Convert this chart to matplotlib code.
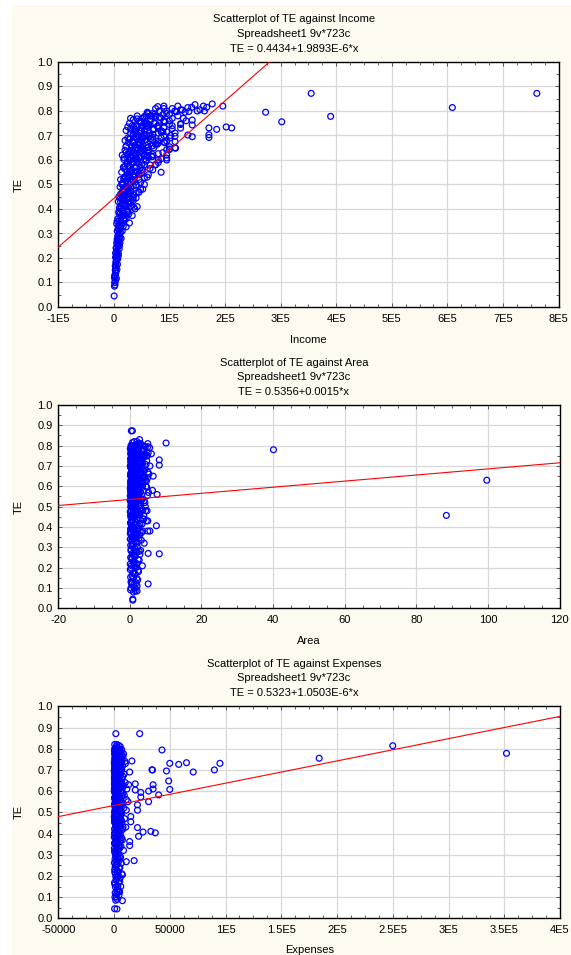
import matplotlib
matplotlib.use("Agg")
import matplotlib.pyplot as plt
from matplotlib.ticker import FixedLocator, AutoMinorLocator, FixedFormatter
from matplotlib.patches import Rectangle

plt.rcParams['font.family'] = ['Liberation Sans', 'DejaVu Sans']

# ---------------- data ----------------
te_core = [
    0.045, 0.085, 0.09, 0.10, 0.11, 0.12, 0.125, 0.13, 0.14, 0.15, 0.16, 0.17, 0.18, 0.19, 0.20,
    0.21, 0.22, 0.23, 0.24, 0.25, 0.26, 0.265, 0.27, 0.28, 0.285, 0.29, 0.30, 0.21, 0.25, 0.28,
    0.31, 0.32, 0.33, 0.335, 0.34, 0.35, 0.355, 0.36, 0.37, 0.375, 0.38, 0.39, 0.395, 0.40, 0.32, 0.34, 0.36, 0.38, 0.39, 0.33,
    0.40, 0.405, 0.41, 0.415, 0.42, 0.425, 0.43, 0.435, 0.44, 0.445, 0.45, 0.455, 0.46, 0.465, 0.47, 0.475, 0.48, 0.485, 0.49, 0.495,
    0.50, 0.41, 0.43, 0.45, 0.47, 0.49, 0.42, 0.44, 0.46, 0.48,
    0.50, 0.505, 0.51, 0.515, 0.52, 0.525, 0.53, 0.535, 0.54, 0.545, 0.55, 0.555, 0.56, 0.565, 0.57, 0.575, 0.58, 0.585, 0.59, 0.595,
    0.60, 0.51, 0.52, 0.53, 0.54, 0.55, 0.56, 0.57, 0.58, 0.59, 0.60, 0.55, 0.57, 0.59, 0.53,
    0.60, 0.605, 0.61, 0.615, 0.62, 0.625, 0.63, 0.635, 0.64, 0.645, 0.65, 0.655, 0.66, 0.665, 0.67, 0.675, 0.68, 0.685, 0.69, 0.695, 0.70,
    0.61, 0.62, 0.63, 0.64, 0.65, 0.66, 0.67, 0.68, 0.69, 0.70, 0.60, 0.62, 0.64, 0.66, 0.68, 0.70, 0.63, 0.65, 0.67, 0.69, 0.61, 0.64, 0.67, 0.70,
    0.70, 0.705, 0.71, 0.715, 0.72, 0.725, 0.73, 0.735, 0.74, 0.745, 0.75, 0.755, 0.76, 0.765, 0.77, 0.775, 0.78, 0.785, 0.79, 0.795, 0.80,
    0.71, 0.72, 0.73, 0.74, 0.75, 0.76, 0.77, 0.78, 0.79, 0.72, 0.74, 0.76, 0.78, 0.73, 0.75, 0.77, 0.79, 0.71, 0.75, 0.76, 0.74, 0.78, 0.80, 0.77,
    0.80, 0.805, 0.81, 0.815, 0.82, 0.81, 0.80, 0.82,
    # denser part of the cloud
    0.10, 0.116, 0.128, 0.147, 0.153, 0.168, 0.174, 0.186, 0.197, 0.203, 0.218, 0.224, 0.237, 0.243, 0.256, 0.262, 0.277, 0.283, 0.296, 0.304,
    0.31, 0.317, 0.327, 0.333, 0.343, 0.351, 0.357, 0.368, 0.373, 0.383, 0.391, 0.397, 0.407, 0.413, 0.423, 0.429, 0.439, 0.445, 0.455, 0.461,
    0.452, 0.458, 0.461, 0.468, 0.471, 0.478, 0.481, 0.488, 0.491, 0.498, 0.501, 0.508, 0.511, 0.518, 0.521, 0.528, 0.531, 0.538, 0.541, 0.548,
    0.551, 0.557, 0.562, 0.565, 0.572, 0.575, 0.582, 0.585, 0.592, 0.595, 0.602, 0.605, 0.612, 0.615, 0.622, 0.625, 0.632, 0.635, 0.642, 0.645,
    0.603, 0.606, 0.613, 0.616, 0.623, 0.626, 0.633, 0.636, 0.643, 0.646, 0.653, 0.656, 0.663, 0.666, 0.673, 0.676, 0.683, 0.686, 0.693, 0.696,
    0.654, 0.657, 0.664, 0.667, 0.674, 0.677, 0.684, 0.687, 0.694, 0.697, 0.704, 0.707, 0.714, 0.717, 0.724, 0.727, 0.734, 0.737, 0.744, 0.747,
    0.705, 0.708, 0.715, 0.718, 0.725, 0.728, 0.735, 0.738, 0.745, 0.748, 0.755, 0.758, 0.765, 0.768, 0.775, 0.778, 0.785, 0.788, 0.795, 0.798,
    0.50, 0.52, 0.54, 0.56, 0.58, 0.60, 0.62, 0.64, 0.66, 0.68, 0.70, 0.72, 0.74, 0.76, 0.78, 0.80, 0.55, 0.65, 0.75, 0.61,
    0.352, 0.363, 0.377, 0.386, 0.401, 0.411, 0.426, 0.434, 0.449, 0.458, 0.473, 0.482, 0.497, 0.506, 0.521, 0.531, 0.546, 0.554, 0.569, 0.579,
    0.59, 0.598, 0.611, 0.618, 0.631, 0.638, 0.651, 0.658, 0.671, 0.678, 0.691, 0.698, 0.711, 0.718, 0.731, 0.738, 0.751, 0.758, 0.771, 0.779,
]

income_k_core = [
    0.5, 1.0, 2.0, 1.5, 2.5, 1.0, 3.0, 2.0, 3.5, 2.5, 3.0, 4.0, 3.5, 5.0, 4.0,
    5, 3, 6, 4, 7, 5, 9, 6, 8, 11, 7, 10, 8, 10, 13,
    6, 9, 8, 14, 10, 12, 18, 7, 15, 20, 11, 16, 24, 13, 12, 5, 22, 27, 9, 17,
    38, 10, 30, 20, 15, 25, 8, 35, 18, 12, 28, 22, 14, 40, 17, 30, 48, 24, 20, 35,
    16, 42, 12, 9, 45, 11, 27, 33, 19, 26,
    55, 15, 30, 22, 45, 18, 60, 35, 25, 50, 14, 40, 70, 28, 48, 20, 65, 33, 80, 42,
    95, 38, 12, 20, 62, 30, 52, 17, 75, 24, 58, 85, 18, 35, 27,
    30, 55, 18, 70, 40, 25, 88, 50, 32, 100, 60, 22, 45, 75, 35, 110, 55, 28, 85, 40, 65,
    45, 95, 28, 62, 110, 38, 80, 48, 25, 90, 80, 15, 42, 58, 20, 102, 36, 72, 26, 52, 62, 20, 92, 35,
    45, 70, 30, 95, 55, 38, 80, 25, 60, 120, 48, 90, 65, 35, 105, 75, 58, 88, 62, 128, 82,
    110, 22, 50, 40, 75, 100, 52, 115, 70, 85, 33, 45, 68, 120, 60, 30, 95, 80, 28, 130, 105, 42, 110, 125,
    95, 120, 75, 140, 90, 105, 150, 115,
    2.0, 4.5, 1.5, 3.5, 5.5, 2.5, 6.5, 4.0, 7.0, 3.0, 8.0, 5.0, 9.5, 4.5, 7.5, 11.0, 6.0, 10.0, 8.5, 12.0,
    15, 8, 22, 11, 28, 6, 19, 13, 33, 9, 25, 16, 36, 12, 21, 30, 14, 40, 18, 26,
    20, 35, 12, 45, 27, 16, 52, 30, 22, 40, 14, 48, 25, 33, 18, 55, 38, 24, 44, 28,
    30, 50, 20, 65, 38, 25, 75, 44, 32, 58, 18, 85, 48, 28, 70, 40, 60, 35, 95, 52,
    42, 25, 68, 35, 55, 80, 30, 48, 100, 38, 62, 22, 75, 45, 90, 33, 58, 28, 70, 52,
    50, 32, 78, 44, 60, 95, 28, 66, 40, 110, 55, 35, 85, 48, 72, 30, 62, 42, 100, 56,
    58, 40, 88, 50, 70, 105, 36, 78, 62, 120, 48, 92, 66, 42, 82, 55, 100, 74, 60, 135,
    28, 35, 45, 32, 55, 40, 60, 50, 38, 70, 65, 48, 80, 90, 75, 110, 42, 52, 58, 30,
    10, 18, 14, 25, 12, 20, 28, 16, 35, 22, 30, 18, 40, 26, 34, 20, 45, 28, 38, 50,
    36, 28, 45, 54, 22, 62, 40, 70, 34, 80, 50, 44, 64, 38, 90, 58, 72, 48, 85, 65,
]

area_core = [
    0.8, 1.5, 0.2, 1.2, 2.0, 0.5, 1.8, 0.3, 2.2, 1.0, 0.6, 1.4, 2.4, 0.1, 1.7,
    0.4, 1.9, 0.9, 2.3, 0.2, 1.3, 2.8, 0.7, 1.6, 3.0, 0.3, 2.1, 1.1, 0.5, 2.6,
    0.6, 2.0, 1.2, 3.2, 0.1, 1.8, 0.9, 2.7, 0.4, 1.5, 3.6, 0.2, 2.3, 1.0, 4.0, 0.7, 1.4, 2.9, 0.3, 1.9,
    0.5, 2.4, 1.1, 3.4, 0.2, 1.7, 4.6, 0.8, 2.0, 0.3, 1.3, 3.9, 0.6, 2.8, 1.5, 0.1, 4.4, 2.2, 0.9, 3.1,
    0.4, 1.6, 5.0, 0.7, 2.5, 1.2, 0.2, 3.6, 1.9, 4.8,
    0.3, 1.4, 2.7, 0.8, 4.2, 1.9, 0.1, 3.3, 1.0, 2.2, 0.5, 4.9, 1.6, 0.9, 2.9, 0.2, 3.8, 1.3, 0.6, 2.4,
    4.5, 1.1, 0.4, 3.0, 1.7, 0.7, 2.0, 5.2, 0.3, 1.5, 3.5, 0.9, 2.6, 0.1, 4.0,
    0.6, 1.8, 3.1, 0.2, 2.4, 4.6, 1.0, 0.4, 3.7, 1.5, 0.8, 2.9, 5.3, 0.3, 1.2, 2.1, 4.1, 0.7, 1.9, 3.4, 0.1,
    2.6, 1.4, 0.5, 4.9, 2.2, 0.9, 3.0, 1.6, 0.3, 5.6, 2.0, 1.1, 3.8, 0.6, 2.7, 1.3, 4.4, 0.2, 1.7, 3.2, 0.8, 2.4, 5.0, 1.0,
    0.4, 2.0, 3.5, 1.1, 0.2, 4.7, 1.6, 2.8, 0.7, 3.9, 1.3, 0.5, 2.3, 5.1, 0.9, 1.8, 3.2, 0.1, 2.5, 4.3, 1.4,
    0.6, 3.0, 1.9, 0.3, 4.9, 2.2, 1.0, 3.7, 0.8, 1.5, 2.7, 0.2, 4.1, 1.2, 3.4, 0.5, 2.1, 1.7, 4.6, 0.9, 2.9, 0.4, 3.6, 1.3,
    0.3, 1.6, 2.5, 0.7, 1.2, 3.0, 0.5, 2.0,
    0.3, 1.1, 0.6, 1.9, 0.2, 1.4, 0.8, 2.3, 0.4, 1.7, 0.1, 1.2, 2.6, 0.5, 1.5, 0.9, 2.0, 0.3, 1.3, 0.7,
    0.2, 1.0, 1.8, 0.5, 2.5, 0.9, 1.4, 0.1, 3.3, 0.7, 2.1, 1.2, 0.4, 2.8, 1.6, 0.6, 3.9, 1.0, 0.3, 2.2,
    1.3, 0.2, 2.4, 0.8, 1.6, 3.1, 0.4, 2.0, 1.1, 0.6, 4.3, 1.5, 0.3, 2.7, 0.9, 1.8, 0.1, 3.5, 1.2, 0.5,
    0.7, 2.2, 1.0, 0.3, 3.0, 1.6, 0.5, 2.6, 1.2, 4.7, 0.2, 1.9, 0.8, 3.6, 1.4, 0.4, 2.3, 1.1, 0.6, 2.9,
    1.5, 0.4, 2.5, 0.9, 3.3, 0.2, 1.7, 0.6, 4.2, 1.2, 2.1, 0.3, 1.4, 2.8, 0.7, 3.8, 1.0, 0.5, 2.3, 1.8,
    0.3, 1.9, 0.8, 2.7, 1.3, 0.5, 3.5, 1.1, 0.2, 2.2, 1.6, 4.5, 0.6, 1.0, 2.9, 0.4, 1.4, 3.2, 0.9, 2.0,
    1.2, 0.4, 2.4, 0.8, 3.0, 1.7, 0.2, 2.0, 1.0, 4.0, 0.6, 1.5, 2.6, 0.3, 3.4, 1.1, 0.7, 1.9, 5.0, 0.5,
    0.9, 1.8, 0.3, 2.4, 1.2, 0.6, 3.1, 1.5, 0.2, 2.1, 0.8, 1.3, 3.8, 0.4, 1.7, 2.8, 1.0, 0.5, 2.2, 1.4,
    0.5, 1.6, 0.2, 2.3, 0.9, 1.3, 0.4, 2.9, 1.1, 0.7, 1.9, 3.6, 0.3, 1.4, 0.8, 2.5, 1.2, 0.1, 2.0, 1.0,
    1.3, 0.6, 2.1, 0.3, 1.7, 2.8, 0.9, 1.2, 0.4, 2.4, 1.6, 0.2, 3.3, 1.0, 0.7, 2.0, 1.4, 4.1, 0.5, 1.8,
]

expenses_k_core = [
    0.5, 1.5, 3.0, 2.0, 4.5, 1.0, 5.0, 2.5, 3.5, 6.0, 0.8, 4.0, 1.8, 5.5, 2.2,
    1.2, 3.8, 0.6, 5.2, 2.4, 6.5, 1.6, 4.4, 0.9, 3.0, 5.8, 2.0, 7.0, 1.4, 4.0,
    0.7, 3.2, 5.0, 1.8, 6.2, 2.6, 0.4, 4.6, 7.5, 1.2, 3.6, 2.2, 5.6, 0.9, 8.5, 4.0, 1.5, 6.8, 2.9, 0.3,
    1.0, 4.8, 2.4, 6.6, 0.5, 3.5, 8.0, 1.7, 5.4, 2.8, 0.8, 7.2, 4.2, 1.4, 9.5, 3.0, 0.3, 5.9, 2.1, 6.9,
    1.1, 4.5, 10.5, 2.6, 0.6, 3.9, 7.8, 1.9, 5.1, 0.9,
    0.4, 3.1, 6.0, 1.6, 8.8, 2.3, 4.7, 0.8, 7.0, 3.7, 1.3, 5.5, 11.0, 2.0, 0.6, 4.2, 9.2, 1.8, 6.4, 2.9,
    0.2, 5.0, 3.4, 1.1, 7.6, 12.5, 2.5, 0.7, 4.4, 8.0, 1.5, 6.8, 3.8, 0.9, 5.7,
    1.2, 4.0, 0.5, 6.2, 2.7, 8.5, 1.7, 3.3, 10.0, 0.9, 5.3, 2.1, 7.2, 0.3, 4.6, 1.4, 9.0, 3.0, 5.9, 0.7, 2.4,
    11.5, 6.6, 1.9, 4.1, 0.4, 3.6, 7.9, 1.1, 5.1, 2.8, 0.6, 8.2, 3.9, 1.6, 6.0, 2.2, 13.0, 0.8, 4.8, 3.2, 1.0, 5.6, 2.5, 7.0,
    0.6, 3.5, 5.8, 1.3, 7.7, 2.4, 0.3, 4.5, 9.8, 1.8, 3.0, 6.4, 0.9, 2.1, 5.0, 8.6, 1.5, 3.8, 0.4, 6.9, 2.7,
    1.1, 4.9, 10.2, 2.0, 0.7, 3.3, 7.4, 1.6, 5.4, 2.9, 0.5, 8.0, 4.1, 1.2, 6.2, 2.3, 3.6, 0.8, 5.2, 1.9, 7.0, 4.4, 1.4, 3.0,
    1.0, 3.2, 2.0, 4.5, 0.6, 5.5, 1.5, 2.6,
    0.8, 2.4, 4.0, 1.2, 3.3, 0.4, 5.0, 2.0, 1.6, 3.8, 0.6, 2.8, 4.5, 1.0, 3.0, 0.3, 2.2, 5.5, 1.4, 3.6,
    1.8, 0.5, 3.4, 2.6, 4.8, 0.9, 1.5, 6.0, 2.3, 0.2, 3.9, 1.1, 5.2, 2.9, 0.7, 4.3, 1.7, 3.1, 0.4, 6.6,
    2.5, 0.6, 4.1, 1.3, 5.8, 3.2, 0.3, 2.0, 4.7, 1.0, 6.3, 2.7, 0.8, 3.7, 1.6, 5.1, 0.4, 2.9, 4.4, 1.2,
    3.4, 1.1, 5.4, 0.5, 2.6, 7.0, 1.8, 4.0, 0.9, 3.1, 6.1, 2.1, 0.3, 4.8, 1.5, 3.7, 0.7, 5.7, 2.4, 1.0,
    0.6, 3.8, 2.0, 5.3, 1.2, 4.4, 0.3, 2.9, 6.7, 1.6, 3.4, 0.8, 5.0, 2.4, 1.0, 4.1, 0.5, 3.0, 6.0, 1.9,
    2.2, 0.4, 4.6, 1.4, 3.2, 0.9, 5.6, 2.6, 0.2, 3.9, 1.7, 6.5, 0.7, 2.9, 4.3, 1.1, 3.5, 0.5, 5.1, 2.0,
    1.3, 4.2, 0.6, 2.7, 5.9, 1.9, 0.3, 3.6, 2.3, 4.9, 0.9, 3.1, 1.5, 6.3, 0.4, 2.5, 4.4, 1.1, 3.3, 5.4,
    3.0, 1.4, 0.5, 4.5, 2.2, 6.9, 0.8, 3.6, 1.8, 5.2, 0.3, 2.7, 4.1, 1.1, 3.4, 0.6, 5.7, 2.0, 1.5, 4.6,
    0.7, 2.9, 4.8, 1.6, 0.4, 3.5, 2.1, 5.5, 1.0, 3.0, 0.5, 4.2, 1.7, 6.2, 2.6, 0.9, 3.8, 1.3, 5.0, 2.3,
    2.0, 0.8, 3.7, 1.2, 5.1, 0.4, 2.6, 4.4, 1.6, 3.2, 0.6, 5.9, 2.3, 1.0, 4.0, 0.3, 2.9, 1.8, 4.8, 1.1,
]

# outlying points, read individually
income_k_extra = [761, 609, 390, 355, 302, 273, 212, 202, 196, 185, 171, 171, 171, 177, 167, 161, 155, 163,
                  146, 141, 141, 141, 133, 133, 111, 100, 95, 101, 79, 90, 123, 113, 60]
te_income_extra = [0.872, 0.814, 0.778, 0.872, 0.756, 0.795, 0.731, 0.735, 0.820, 0.725, 0.731, 0.703, 0.692,
                   0.829, 0.815, 0.820, 0.805, 0.800, 0.826, 0.695, 0.743, 0.763, 0.702, 0.814, 0.648, 0.654,
                   0.608, 0.690, 0.818, 0.810, 0.804, 0.797, 0.790]

area_extra = [40.1, 88.4, 99.7, 10.1, 8.2, 8.2, 8.2, 7.4, 5.1, 5.1, 3.5, 7.6, 6.3, 5.6, 5.0, 0.4, 0.7, 0.8,
              6.5, 5.5, 6.0, 5.0, 2.7, 1.0, 2.0, 0.5, 1.5]
te_area_extra = [0.78, 0.457, 0.63, 0.813, 0.73, 0.704, 0.268, 0.406, 0.12, 0.27, 0.209, 0.56, 0.58, 0.38, 0.38,
                 0.873, 0.873, 0.04, 0.65, 0.79, 0.76, 0.81, 0.83, 0.08, 0.085, 0.13, 0.10]

expenses_k_extra = [352, 250, 184, 95, 90, 71, 65, 58, 50, 47, 43, 50, 49, 34, 34.5, 23, 1.6, 16, 14, 40, 35, 35,
                    33, 37, 22, 26, 21, 18, 31, 31, 24, 24, 21, 21, 19, 19, 15, 15, 11, 14, 14, 11, 7.5, 7.5, 2.6]
te_expenses_extra = [0.778, 0.814, 0.755, 0.731, 0.70, 0.69, 0.734, 0.726, 0.731, 0.695, 0.794, 0.608, 0.648,
                     0.70, 0.70, 0.871, 0.871, 0.742, 0.69, 0.582, 0.63, 0.61, 0.41, 0.403, 0.387, 0.407, 0.428,
                     0.272, 0.55, 0.60, 0.594, 0.572, 0.535, 0.51, 0.634, 0.605, 0.48, 0.455, 0.51, 0.343, 0.362,
                     0.267, 0.205, 0.083, 0.044]

# regression lines (from chart annotation)
fit_income = (0.4434, 1.9893e-6)
fit_area = (0.5356, 0.0015)
fit_expenses = (0.5323, 1.0503e-6)

titles = [
    ["Scatterplot of TE against Income", "Spreadsheet1 9v*723c", "TE = 0.4434+1.9893E-6*x"],
    ["Scatterplot of TE against Area", "Spreadsheet1 9v*723c", "TE = 0.5356+0.0015*x"],
    ["Scatterplot of TE against Expenses", "Spreadsheet1 9v*723c", "TE = 0.5323+1.0503E-6*x"],
]
xlabels = ["Income", "Area", "Expenses"]

income_ticks = [-1e5, 0, 1e5, 2e5, 3e5, 4e5, 5e5, 6e5, 7e5, 8e5]
income_ticklabels = ["-1E5", "0", "1E5", "2E5", "3E5", "4E5", "5E5", "6E5", "7E5", "8E5"]
area_ticks = [-20, 0, 20, 40, 60, 80, 100, 120]
area_ticklabels = ["-20", "0", "20", "40", "60", "80", "100", "120"]
exp_ticks = [-50000, 0, 50000, 1e5, 1.5e5, 2e5, 2.5e5, 3e5, 3.5e5, 4e5]
exp_ticklabels = ["-50000", "0", "50000", "1E5", "1.5E5", "2E5", "2.5E5", "3E5", "3.5E5", "4E5"]
te_ticks = [0.0, 0.1, 0.2, 0.3, 0.4, 0.5, 0.6, 0.7, 0.8, 0.9, 1.0]
te_ticklabels = ["0.0", "0.1", "0.2", "0.3", "0.4", "0.5", "0.6", "0.7", "0.8", "0.9", "1.0"]

# ---------------- figure ----------------
W, H = 571, 955
fig = plt.figure(figsize=(W / 100, H / 100), dpi=100)
fig.patch.set_facecolor("white")
fig.patches.append(Rectangle((12 / W, 0), 1 - 12 / W, 1 - 5 / H, transform=fig.transFigure,
                             facecolor="#FEFAF0", edgecolor="none", zorder=-10))

FS = 8
BLUE = "#0000FF"


def px_axes(left, top, right, bottom):
    return fig.add_axes([left / W, 1 - bottom / H, (right - left) / W, (bottom - top) / H])


def ftext(x, y, s, **kw):
    fig.text(x / W, 1 - y / H, s, ha="center", va="center", fontsize=FS, **kw)


panels = [
    dict(box=(58.3, 62, 558.5, 307), x=[v * 1000 for v in income_k_core] + [v * 1000 for v in income_k_extra],
         y=te_core + te_income_extra, xlim=(-1e5, 8e5), ticks=income_ticks, labels=income_ticklabels,
         fit=fit_income, title_y=(19, 34, 49), xlabel_y=340),
    dict(box=(58.3, 405, 559.5, 608.3), x=area_core + area_extra,
         y=te_core + te_area_extra, xlim=(-20, 120), ticks=area_ticks, labels=area_ticklabels,
         fit=fit_area, title_y=(363, 377, 392), xlabel_y=641),
    dict(box=(58.3, 706.3, 560, 918.3), x=[v * 1000 for v in expenses_k_core] + [v * 1000 for v in expenses_k_extra],
         y=te_core + te_expenses_extra, xlim=(-50000, 4e5), ticks=exp_ticks, labels=exp_ticklabels,
         fit=fit_expenses, title_y=(664, 678, 693), xlabel_y=950),
]

for i, p in enumerate(panels):
    l, t, r, b = p["box"]
    ax = px_axes(l, t, r, b)
    ax.set_facecolor("white")
    ax.scatter(p["x"], p["y"], s=4.2 ** 2, facecolors="none", edgecolors=BLUE, linewidths=0.9, zorder=3,
               clip_on=False)
    b0, m = p["fit"]
    x0, x1 = p["xlim"]
    ax.plot([x0, x1], [b0 + m * x0, b0 + m * x1], color="#FF0000", lw=0.8, zorder=4)
    ax.set_xlim(x0, x1)
    ax.set_ylim(0, 1)
    ax.xaxis.set_major_locator(FixedLocator(p["ticks"]))
    ax.xaxis.set_major_formatter(FixedFormatter(p["labels"]))
    ax.yaxis.set_major_locator(FixedLocator(te_ticks))
    ax.yaxis.set_major_formatter(FixedFormatter(te_ticklabels))
    ax.xaxis.set_minor_locator(AutoMinorLocator(4))
    ax.yaxis.set_minor_locator(AutoMinorLocator(2))
    ax.grid(True, which="major", color="#D8D8D8", lw=0.9, zorder=0)
    ax.set_axisbelow(True)
    ax.tick_params(which="both", direction="in", top=True, right=True, labelsize=FS, color="#444444")
    ax.tick_params(which="major", length=3, width=0.6)
    ax.tick_params(which="minor", length=2, width=0.6)
    ax.tick_params(axis="y", pad=4)
    ax.tick_params(axis="x", pad=5)
    for s in ax.spines.values():
        s.set_color("black")
        s.set_linewidth(1.0)
    ax.set_ylabel("TE", fontsize=FS)
    ax.yaxis.set_label_coords((23.7 - l) / (r - l), 0.5)
    for line, yy in zip(titles[i], p["title_y"]):
        ftext(294, yy, line)
    ftext((l + r) / 2, p["xlabel_y"], xlabels[i])

fig.savefig("out.png", dpi=100, facecolor=fig.get_facecolor())
